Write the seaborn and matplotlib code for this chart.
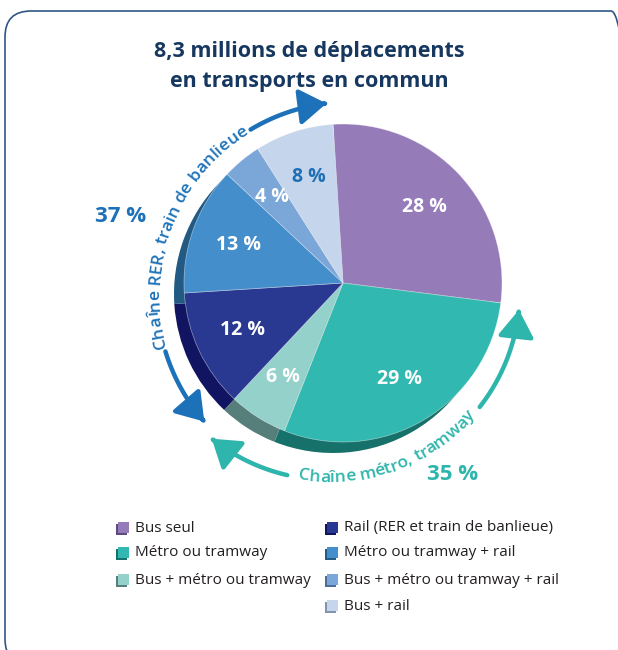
import numpy as np
import matplotlib
matplotlib.use("Agg")
import matplotlib.pyplot as plt
import seaborn as sns
from matplotlib.patches import FancyArrowPatch, FancyBboxPatch, Rectangle
from matplotlib.path import Path
from matplotlib.font_manager import FontProperties
from matplotlib.textpath import TextToPath

# données
modes = ['Bus seul', 'Métro ou tramway', 'Bus + métro ou tramway',
         'Rail (RER et train de banlieue)', 'Métro ou tramway + rail',
         'Bus + métro ou tramway + rail', 'Bus + rail']
parts = [28, 29, 6, 12, 13, 4, 8]
couleurs = ['#967BB9', '#31B8B0', '#94D1CB', '#293991', '#448ECC', '#7BA6D8', '#C5D5EC']
ombres = ['#5E4A80', '#17716B', '#567F7C', '#111460', '#225A83', '#4D6E99', '#8393AE']
titre = ['8,3 millions de déplacements', 'en transports en commun']
chaine_rer = 'Chaîne RER, train de banlieue'
chaine_metro = 'Chaîne métro, tramway'
total_rer = '37 %'
total_metro = '35 %'

sns.set_theme(style='white')
plt.rcParams['font.family'] = ['Open Sans', 'DejaVu Sans']

W, H = 618, 650
fig = plt.figure(figsize=(W / 100, H / 100), dpi=100)
ax = fig.add_axes([0, 0, 1, 1])
ax.set_xlim(0, W)
ax.set_ylim(0, H)
ax.set_axis_off()

def Y(y):
    return H - y

# cadre arrondi (dépasse à droite et en bas)
ax.add_patch(FancyBboxPatch((5, Y(665)), 632, 654, boxstyle='round,pad=0,rounding_size=26',
                            fc='none', ec='#2F5785', lw=1.2))

# titre
for i, t in enumerate(titre):
    ax.text(309, Y(51 + 30 * i), t, ha='center', va='center', fontsize=15.5,
            fontweight='bold', color='#16375F')

# camembert avec ombre (effet 3D)
cx, cy, R = 343, Y(283), 159
ax.pie(parts, colors=sns.color_palette(ombres), startangle=93.6, counterclock=False,
       center=(cx - 10, cy - 11), radius=R, frame=True,
       wedgeprops=dict(linewidth=0))
wedges, _, pcts = ax.pie(parts, colors=sns.color_palette(couleurs), startangle=93.6,
                         counterclock=False, center=(cx, cy), radius=R, frame=True,
                         autopct=lambda p: f'{p:.0f} %', pctdistance=0.7,
                         wedgeprops=dict(linewidth=0.5, edgecolor=(1, 1, 1, 0.5)),
                         textprops=dict(color='white', fontsize=14, fontweight='bold'))
pcts[-1].set_color('#1F6FB5')
ax.set_xlim(0, W)
ax.set_ylim(0, H)
ax.set_aspect('equal')
ax.set_axis_off()

# texte courbe
t2p = TextToPath()

def largeur(s, fp):
    w = t2p.get_text_width_height_descent(s + 'l', fp, ismath=False)[0]
    w0 = t2p.get_text_width_height_descent('l', fp, ismath=False)[0]
    return (w - w0) * 100 / 72

def texte_arc(s, ccx, ccy, r, a_mid, fp, color, horaire):
    total = largeur(s, fp)
    span = np.degrees(total / r)
    start = a_mid + span / 2 if horaire else a_mid - span / 2
    for i, ch in enumerate(s):
        c = (largeur(s[:i], fp) + largeur(s[:i + 1], fp)) / 2
        if horaire:
            a = start - np.degrees(c / r)
            rot = a - 90
        else:
            a = start + np.degrees(c / r)
            rot = a + 90
        ar = np.radians(a)
        ax.text(ccx + r * np.cos(ar), ccy + r * np.sin(ar), ch, rotation=rot,
                rotation_mode='anchor', ha='center', va='baseline',
                fontproperties=fp, color=color)

def fleche(ccx, ccy, r, a0, a1, color):
    a = np.radians(np.linspace(a0, a1, 60))
    p = Path(np.column_stack([ccx + r * np.cos(a), ccy + r * np.sin(a)]))
    ax.add_patch(FancyArrowPatch(path=p, arrowstyle='-|>,head_length=0.75,head_width=0.5',
                                 mutation_scale=22, color=color, lw=3.2))

bleu, vert = '#1D71B8', '#2EB5AC'
fp_arc = FontProperties(family=['Open Sans', 'DejaVu Sans'], weight='semibold', size=12.5)

# chaîne RER
bx, by = 350, Y(295)
fleche(bx, by, 193, 121, 97, bleu)
fleche(bx, by, 193, 197, 221, bleu)
texte_arc(chaine_rer, bx, by, 191, 159, fp_arc, bleu, True)
ax.text(121, Y(216), total_rer, ha='center', va='center', fontsize=16,
        fontweight='bold', color=bleu)

# chaîne métro
gx, gy = 330, Y(290)
fleche(gx, gy, 190, 257, 231.5, vert)
fleche(gx, gy, 190, 322, 354, vert)
texte_arc(chaine_metro, gx, gy, 192, 289.8, fp_arc, vert, False)
ax.text(453, Y(474), total_metro, ha='center', va='center', fontsize=16,
        fontweight='bold', color=vert)

# légende
pos = [(118, 528), (118, 553), (118, 580), (327, 528), (327, 553), (327, 580), (327, 606)]
for (x, y), lab, c, o in zip(pos, modes, couleurs, ombres):
    ax.add_patch(Rectangle((x - 2, Y(y) - 7), 11, 11, fc=o, ec='none'))
    ax.add_patch(Rectangle((x, Y(y) - 5), 11, 11, fc=c, ec='none'))
    ax.text(x + 17, Y(y), lab, ha='left', va='center', fontsize=11, color='#231F20')

fig.savefig('out.png', dpi=100)
